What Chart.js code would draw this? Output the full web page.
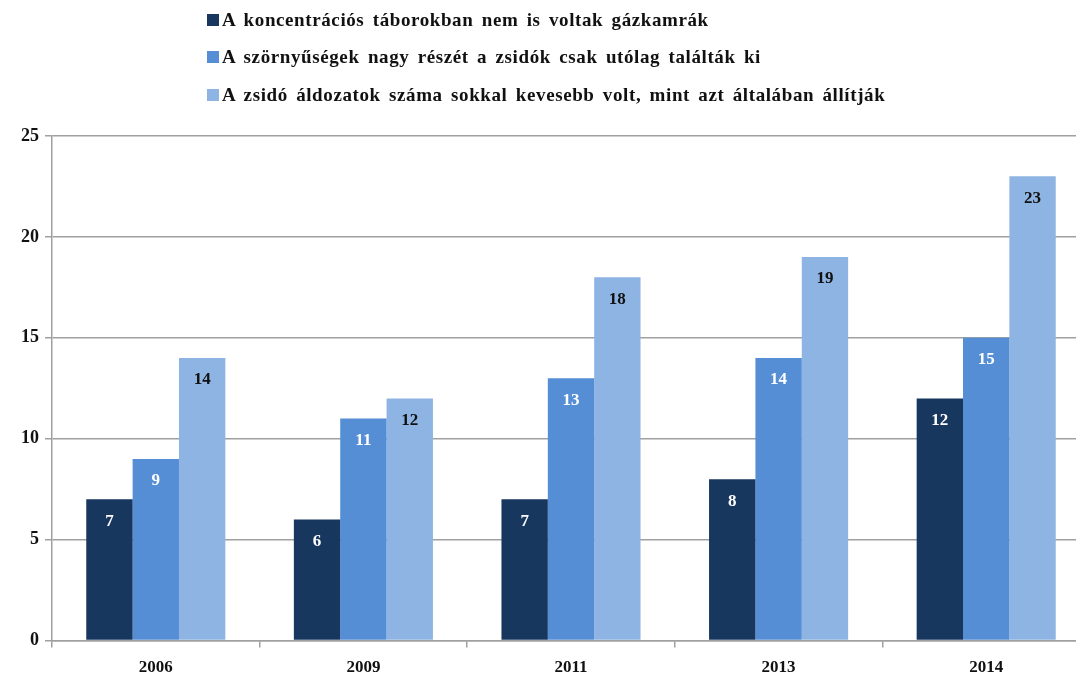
<!DOCTYPE html>
<html>
<head>
<meta charset="utf-8">
<script src="https://cdn.jsdelivr.net/npm/chart.js@4.4.1/dist/chart.umd.min.js"></script>
<style>
  html, body { margin: 0; padding: 0; background: #fff; overflow: hidden; }
  #wrap { position: relative; width: 1090px; height: 679px; }
  #legend { position: absolute; left: 207px; top: 1px; font-family: "Liberation Serif", serif; font-weight: bold; font-size: 19px; color: #111; letter-spacing: 0.6px; word-spacing: 3px; }
  #legend div { height: 37.5px; display: flex; align-items: center; }
  #legend span.box { display: inline-block; width: 12px; height: 12px; margin-right: 3px; }
</style>
</head>
<body>
<div id="wrap">
  <div id="legend"></div>
  <canvas id="chart" width="1090" height="679"></canvas>
</div>
<script>
const years = ["2006", "2009", "2011", "2013", "2014"];
const seriesNames = [
  "A koncentrációs táborokban nem is voltak gázkamrák",
  "A szörnyűségek nagy részét a zsidók csak utólag találták ki",
  "A zsidó áldozatok száma sokkal kevesebb volt, mint azt általában állítják"
];
const gasChambers = [7, 6, 7, 8, 12];
const inventedLater = [9, 11, 13, 14, 15];
const fewerVictims = [14, 12, 18, 19, 23];

const colors = ["#17375e", "#558ed5", "#8eb4e3"];
const labelColors = ["#ffffff", "#ffffff", "#111111"];
const serif = "'Liberation Serif', serif";

// legend built from the series names
const legendEl = document.getElementById("legend");
seriesNames.forEach((name, i) => {
  const row = document.createElement("div");
  row.innerHTML = `<span class="box" style="background:${colors[i]}"></span>${name}`;
  legendEl.appendChild(row);
});

// value labels inside the bars, near the top
const barLabels = {
  id: "barLabels",
  afterDatasetsDraw(chart) {
    const ctx = chart.ctx;
    ctx.save();
    ctx.font = "bold 17px " + serif;
    ctx.textAlign = "center";
    ctx.textBaseline = "middle";
    chart.data.datasets.forEach((ds, i) => {
      const meta = chart.getDatasetMeta(i);
      meta.data.forEach((bar, j) => {
        ctx.fillStyle = labelColors[i];
        ctx.fillText(ds.data[j], bar.x, bar.y + 22);
      });
    });
    ctx.restore();
  }
};

new Chart(document.getElementById("chart"), {
  type: "bar",
  data: {
    labels: years,
    datasets: [
      { label: seriesNames[0], data: gasChambers, backgroundColor: colors[0] },
      { label: seriesNames[1], data: inventedLater, backgroundColor: colors[1] },
      { label: seriesNames[2], data: fewerVictims, backgroundColor: colors[2] }
    ]
  },
  options: {
    responsive: false,
    animation: false,
    layout: { padding: { top: 136, left: 15, right: 0, bottom: -9 } },
    datasets: { bar: { barPercentage: 1, categoryPercentage: 0.67 } },
    plugins: {
      legend: { display: false },
      tooltip: { enabled: false }
    },
    scales: {
      x: {
        grid: { drawOnChartArea: false, drawTicks: true, tickLength: 7, color: "#a0a0a0", lineWidth: 1.5 },
        border: { color: "#a0a0a0", width: 1.5 },
        ticks: { color: "#111", font: { family: serif, weight: "bold", size: 17 }, padding: 10 }
      },
      y: {
        min: 0,
        max: 25,
        ticks: { stepSize: 5, color: "#111", font: { family: serif, weight: "bold", size: 18 }, padding: 6 },
        grid: { color: "#a0a0a0", lineWidth: 1.5, tickLength: 7 },
        border: { color: "#a0a0a0", width: 1.5 }
      }
    }
  },
  plugins: [barLabels]
});
</script>
</body>
</html>
